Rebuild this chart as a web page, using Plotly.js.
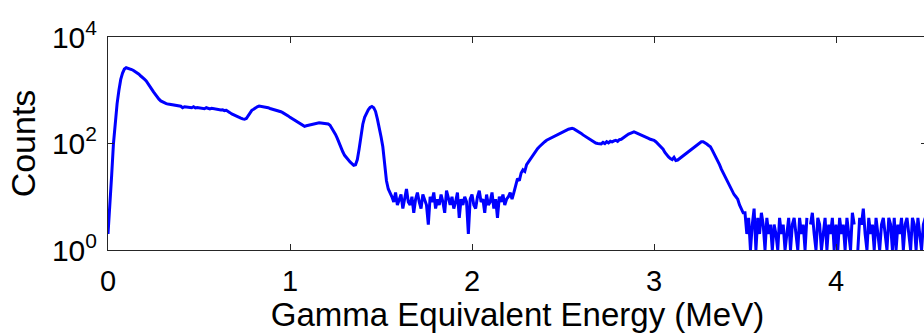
<!DOCTYPE html>
<html>
<head>
<meta charset="utf-8">
<script src="https://cdn.plot.ly/plotly-3.0.1.min.js"></script>
<style>
  html, body { margin: 0; padding: 0; overflow: hidden; background: #fff; }
  #chart { width: 930px; height: 333px; }
</style>
</head>
<body>
<div id="chart"></div>
<script>
// Spectrum: first bin energy (MeV) and bin width (MeV)
const BIN_START = 0.0;
const BIN_WIDTH = 0.01;

// Counts per bin (0.00 .. 4.50 MeV)
const counts = [
  2,6,25,100,250,560,1000,1600,2100,2500,
  2650,2600,2550,2450,2350,2250,2150,2000,1850,1750,
  1620,1500,1350,1200,1050,930,830,740,680,630,
  600,575,560,550,545,535,530,520,510,505,
  500,470,490,485,475,480,470,490,465,475,
  470,455,465,450,470,455,445,460,450,455,
  440,435,425,430,415,420,405,380,360,345,
  330,320,310,300,290,285,295,330,380,420,
  440,470,490,505,500,495,490,480,470,455,
  445,440,430,420,405,395,380,365,345,330,
  310,295,280,265,250,235,225,215,210,215,
  220,225,230,235,238,240,245,242,240,238,
  240,232,220,195,170,148,125,100,82,70,
  60,54,49,45,42,39,40,50,80,150,
  230,310,372,430,475,495,470,400,290,210,
  135,87,40,20,14,12,10,8,12,7,
  9,11,6,9,14,8,7,10,5,9,
  12,8,6,11,9,7,3,10,8,12,
  6,9,7,11,8,5,13,9,7,10,
  6,8,12,4,9,7,10,8,2,9,
  11,7,6,10,13,8,9,5,11,7,
  8,12,6,9,4,10,8,11,7,9,
  10,12,9,12,16,22,20,28,32,30,
  40,45,50,58,62,70,80,87,95,100,
  108,115,120,125,130,132,138,145,150,160,
  166,172,178,185,190,192,188,180,172,165,
  155,145,138,132,125,118,112,106,102,100,
  100,98,105,100,108,103,110,107,112,115,
  110,118,120,128,135,140,150,155,160,165,
  160,155,150,145,140,135,130,125,120,118,
  115,108,100,92,87,78,68,60,56,52,
  50,55,48,49,52,56,60,63,68,72,
  76,80,84,90,96,102,108,108,104,98,
  92,87,75,65,56,49,40,33,28,24,
  20,17,15,13,11,10,9,7,6,5,
  5,
  2,4,1,3,6,1,4,2,5,3,
  1,4,2,3,1,3,2,1,4,2,
  3,1,2,4,1,3,4,2,1,4,
  2,3,1,4,0,3,5,2,1,4,
  3,1,2,4,1,3,2,4,1,3,
  1,4,2,3,1,4,2,1,5,3,
  0,1,4,3,6,2,1,4,2,3,
  1,4,2,1,3,4,2,1,4,3,
  1,4,1,3,2,4,1,3,4,2,
  1,4,3,1,4,2,1,3,4,2
];

const xTickVals = [0, 1, 2, 3, 4];
const xTickText = ['0', '1', '2', '3', '4'];
const yTickVals = [1, 100, 10000];
const yTickText = ['10<sup>0</sup>', '10<sup>2</sup>', '10<sup>4</sup>'];
const xTitle = 'Gamma Equivalent Energy (MeV)';
const yTitle = 'Counts';

// zero counts cannot be shown on a log axis -> leave gaps
const yPlot = counts.map(c => (c > 0 ? c : null));

const FONT = '"Liberation Sans", Arial, Helvetica, sans-serif';
const AX = '#262626';

const trace = {
  type: 'scatter',
  mode: 'lines',
  x0: BIN_START,
  dx: BIN_WIDTH,
  y: yPlot,
  connectgaps: false,
  line: { color: '#0000FF', width: 3 },
  hoverinfo: 'skip'
};

const layout = {
  width: 930,
  height: 333,
  margin: { l: 108, r: 3, t: 37, b: 83, pad: 0 },
  paper_bgcolor: '#ffffff',
  plot_bgcolor: '#ffffff',
  showlegend: false,
  font: { family: FONT, color: '#000000' },
  xaxis: {
    range: [0, 4.5],
    tickmode: 'array',
    tickvals: xTickVals,
    ticktext: xTickText,
    ticks: 'inside',
    ticklen: 6,
    tickcolor: AX,
    tickwidth: 1,
    showline: true,
    linecolor: AX,
    linewidth: 1,
    mirror: 'ticks',
    showgrid: false,
    zeroline: false,
    tickfont: { size: 29, family: FONT, color: '#000' },
    ticklabelstandoff: 5,
    title: { text: xTitle, font: { size: 33, family: FONT, color: '#000' }, standoff: 3 }
  },
  yaxis: {
    type: 'log',
    range: [0, 4],
    tickmode: 'array',
    tickvals: yTickVals,
    ticktext: yTickText,
    ticks: 'inside',
    ticklen: 6,
    tickcolor: AX,
    tickwidth: 1,
    showline: true,
    linecolor: AX,
    linewidth: 1,
    mirror: 'ticks',
    showgrid: false,
    zeroline: false,
    tickfont: { size: 30, family: FONT, color: '#000' },
    ticklabelstandoff: 4,
    title: { text: yTitle, font: { size: 34, family: FONT, color: '#000' }, standoff: 6 }
  }
};

Plotly.newPlot('chart', [trace], layout, { staticPlot: true, displayModeBar: false });
</script>
</body>
</html>
